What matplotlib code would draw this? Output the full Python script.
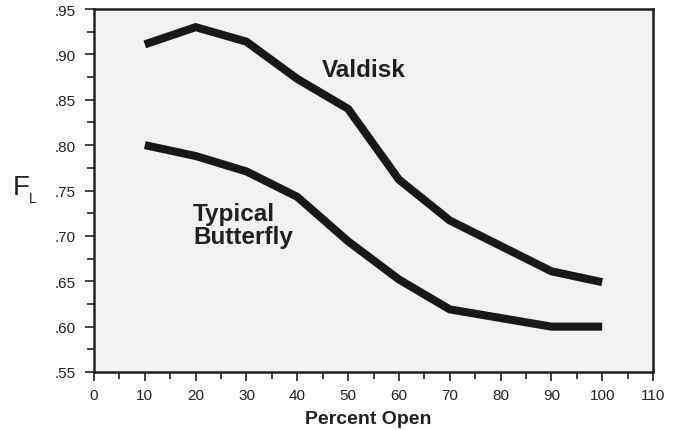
import matplotlib
matplotlib.use("Agg")
import matplotlib.pyplot as plt
from matplotlib.ticker import MultipleLocator, FixedFormatter, FixedLocator

plt.rcParams['font.family'] = ['Liberation Sans', 'DejaVu Sans']

# percent open
pct_open = [10, 20, 30, 40, 50, 60, 70, 90, 100]
# liquid pressure recovery factor F_L
valdisk = [0.911, 0.930, 0.914, 0.873, 0.840, 0.762, 0.717, 0.661, 0.649]
butterfly = [0.800, 0.788, 0.771, 0.743, 0.694, 0.652, 0.619, 0.600, 0.600]

y_ticks = [0.55, 0.60, 0.65, 0.70, 0.75, 0.80, 0.85, 0.90, 0.95]
y_labels = ['.55', '.60', '.65', '.70', '.75', '.80', '.85', '.90', '.95']

fig = plt.figure(figsize=(6.73, 4.31), dpi=100)
ax = fig.add_axes([94 / 673, 1 - 373 / 431, (653 - 94) / 673, (373 - 10) / 431])
ax.set_facecolor('#f0f1f3')

ax.plot(pct_open, valdisk, color='#1a1718', lw=5.8, solid_capstyle='butt', solid_joinstyle='miter')
ax.plot(pct_open, butterfly, color='#1a1718', lw=5.8, solid_capstyle='butt', solid_joinstyle='miter')

ax.set_xlim(0, 110)
ax.set_ylim(0.55, 0.95)
ax.xaxis.set_major_locator(MultipleLocator(10))
ax.xaxis.set_minor_locator(MultipleLocator(5))
ax.yaxis.set_major_locator(FixedLocator(y_ticks))
ax.yaxis.set_major_formatter(FixedFormatter(y_labels))
ax.yaxis.set_minor_locator(MultipleLocator(0.025))

ax.tick_params(which='major', length=6.5, width=1.2, labelsize=11, color='#231f20', labelcolor='#231f20')
ax.tick_params(which='minor', length=5, width=1.2, color='#231f20')
ax.tick_params(axis='x', which='major', pad=5)
ax.tick_params(axis='y', which='major', pad=7)
for s in ax.spines.values():
    s.set_linewidth(1.8)
    s.set_color('#231f20')

ax.set_xlabel('Percent Open', fontsize=14, fontweight='bold', color='#231f20')
ax.xaxis.set_label_coords(0.49, -0.105)
fig.text(13 / 673, 1 - 195 / 431, 'F', fontsize=20, color='#231f20', ha='left', va='baseline')
fig.text(29 / 673, 1 - 203 / 431, 'L', fontsize=10, color='#231f20', ha='left', va='baseline')

ax.text(53.0, 0.883, 'Valdisk', fontsize=17.5, fontweight='bold', color='#231f20', ha='center', va='center')
ax.text(19.5, 0.712, 'Typical\nButterfly', fontsize=17.5, fontweight='bold', color='#231f20',
        ha='left', va='center', linespacing=1.05)

fig.savefig('out.png', dpi=100)
